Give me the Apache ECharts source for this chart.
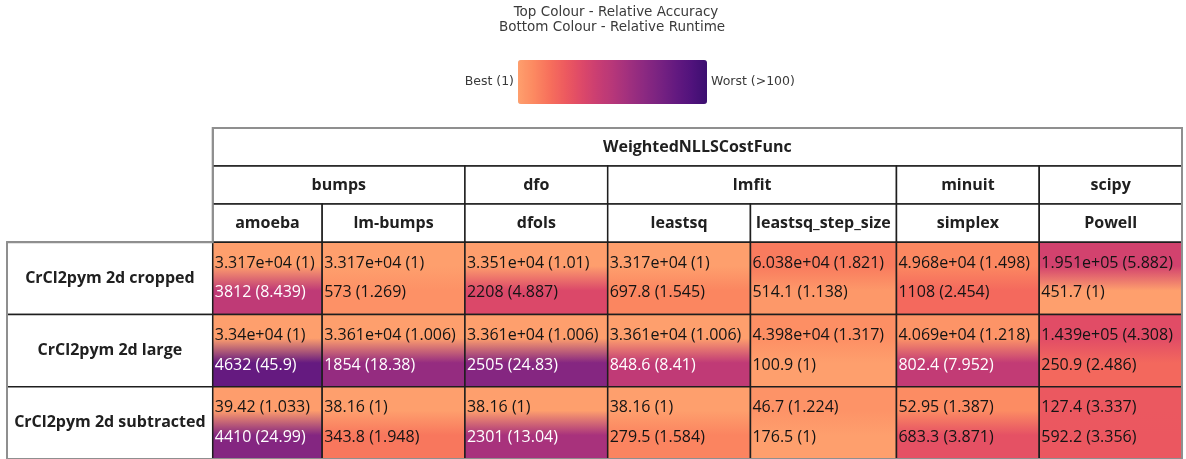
<!DOCTYPE html>
<html>
<head>
<meta charset="utf-8">
<script src="https://cdn.jsdelivr.net/npm/echarts@6/dist/echarts.min.js"></script>
<style>
  html, body { margin: 0; padding: 0; background: #ffffff; }
  #main { width: 1186px; height: 459px; }
</style>
</head>
<body>
<div id="main"></div>
<script>
// ---- table content ----
const costFunction = 'WeightedNLLSCostFunc';
const software = ['bumps', 'bumps', 'dfo', 'lmfit', 'lmfit', 'minuit', 'scipy'];
const minimizers = ['amoeba', 'lm-bumps', 'dfols', 'leastsq', 'leastsq_step_size', 'simplex', 'Powell'];
const problems = ['CrCl2pym 2d cropped', 'CrCl2pym 2d large', 'CrCl2pym 2d subtracted'];

// chi-squared value of each fit and its value relative to the best in the row
const accuracy = [
  [3.317e4, 3.317e4, 3.351e4, 3.317e4, 6.038e4, 4.968e4, 1.951e5],
  [3.34e4, 3.361e4, 3.361e4, 3.361e4, 4.398e4, 4.069e4, 1.439e5],
  [39.42, 38.16, 38.16, 38.16, 46.7, 52.95, 127.4]
];
const accuracyRel = [
  [1, 1, 1.01, 1, 1.821, 1.498, 5.882],
  [1, 1.006, 1.006, 1.006, 1.317, 1.218, 4.308],
  [1.033, 1, 1, 1, 1.224, 1.387, 3.337]
];

// runtime of each fit and its value relative to the fastest in the row
const runtime = [
  [3812, 573, 2208, 697.8, 514.1, 1108, 451.7],
  [4632, 1854, 2505, 848.6, 100.9, 802.4, 250.9],
  [4410, 343.8, 2301, 279.5, 176.5, 683.3, 592.2]
];
const runtimeRel = [
  [8.439, 1.269, 4.887, 1.545, 1.138, 2.454, 1],
  [45.9, 18.38, 24.83, 8.41, 1, 7.952, 2.486],
  [24.99, 1.948, 13.04, 1.584, 1, 3.871, 3.356]
];

const colourLimit = 100;
const legendLabels = ['Best (1)', 'Worst (>100)'];
const titleLines = ['Top Colour - Relative Accuracy', 'Bottom Colour - Relative Runtime'];

// ---- colour map (magma, used reversed between 0.2 and 0.8) ----
const MAGMA = [
  [0.20, '#3b0f70'], [0.25, '#51127c'], [0.30, '#641a80'], [0.35, '#782281'],
  [0.40, '#8c2981'], [0.45, '#a1307e'], [0.50, '#b73779'], [0.55, '#ca3e72'],
  [0.60, '#de4968'], [0.65, '#ed5a5f'], [0.70, '#f7705c'], [0.75, '#fc8961'],
  [0.80, '#fe9f6d']
];
const CMAP_LOW = 0.2, CMAP_HIGH = 0.8;

function hexToRgb(h) {
  return [parseInt(h.slice(1, 3), 16), parseInt(h.slice(3, 5), 16), parseInt(h.slice(5, 7), 16)];
}
function magma(p) {
  if (p <= MAGMA[0][0]) return hexToRgb(MAGMA[0][1]);
  for (let k = 1; k < MAGMA.length; k++) {
    if (p <= MAGMA[k][0]) {
      const a = MAGMA[k - 1], b = MAGMA[k];
      const f = (p - a[0]) / (b[0] - a[0]);
      const ca = hexToRgb(a[1]), cb = hexToRgb(b[1]);
      return ca.map((v, n) => Math.round(v + (cb[n] - v) * f));
    }
  }
  return hexToRgb(MAGMA[MAGMA.length - 1][1]);
}
function relativeRgb(rel) {
  const t = Math.min(1, Math.max(0, Math.log10(rel) / Math.log10(colourLimit)));
  return magma(CMAP_HIGH - (CMAP_HIGH - CMAP_LOW) * t);
}
const rgbStr = c => `rgb(${c[0]},${c[1]},${c[2]})`;
function textOn(c) {
  const lum = (0.299 * c[0] + 0.587 * c[1] + 0.114 * c[2]) / 255;
  return lum < 0.435 ? '#ffffff' : '#141414';
}

// python-style "{:.4g}" formatting
function fmt4g(v) {
  const e = Math.floor(Math.log10(Math.abs(v)));
  if (e < -4 || e >= 4) {
    const parts = v.toExponential(3).split('e');
    let m = parts[0];
    if (m.indexOf('.') >= 0) m = m.replace(/0+$/, '').replace(/\.$/, '');
    const n = parseInt(parts[1], 10);
    return m + 'e' + (n < 0 ? '-' : '+') + String(Math.abs(n)).padStart(2, '0');
  }
  return String(parseFloat(v.toPrecision(4)));
}
const cellText = (v, r) => `${fmt4g(v)} (${fmt4g(r)})`;

// ---- auto layout of the table from measured text ----
const TABLE_FONT = '"Open Sans", "Noto Sans", sans-serif';
const FONT_SIZE = 16;
const LEGEND_FONT = '"DejaVu Sans", sans-serif';
const measureCtx = document.createElement('canvas').getContext('2d');
function textWidth(s, weight, size, family) {
  measureCtx.font = `${weight} ${size}px ${family}`;
  return measureCtx.measureText(s).width;
}
const CELL_PAD = 4;

const colWidths = [];
colWidths.push(Math.max(...problems.map(p => textWidth(p, 'bold', FONT_SIZE, TABLE_FONT))) + CELL_PAD);
minimizers.forEach((m, j) => {
  let w = textWidth(m, 'bold', FONT_SIZE, TABLE_FONT);
  for (let i = 0; i < problems.length; i++) {
    w = Math.max(w,
      textWidth(cellText(accuracy[i][j], accuracyRel[i][j]), 'normal', FONT_SIZE, TABLE_FONT),
      textWidth(cellText(runtime[i][j], runtimeRel[i][j]), 'normal', FONT_SIZE, TABLE_FONT));
  }
  colWidths.push(w + CELL_PAD);
});
const xEdges = [0];
colWidths.forEach(w => xEdges.push(xEdges[xEdges.length - 1] + w));

// header rows hold one line, body rows hold two
const HEADER_ROWS = 3, BODY_ROW_WEIGHT = 1.9;
const yEdges = [0];
for (let r = 0; r < HEADER_ROWS; r++) yEdges.push(yEdges[yEdges.length - 1] + 1);
problems.forEach(() => yEdges.push(yEdges[yEdges.length - 1] + BODY_ROW_WEIGHT));
const xMax = xEdges[xEdges.length - 1], yMax = yEdges[yEdges.length - 1];

// header and row-label cells: [x0, x1, y0, y1]
const headerCells = [];
headerCells.push({ box: [xEdges[1], xMax, yEdges[0], yEdges[1]], text: costFunction });
let runStart = 0;
for (let j = 1; j <= software.length; j++) {
  if (j === software.length || software[j] !== software[runStart]) {
    headerCells.push({ box: [xEdges[runStart + 1], xEdges[j + 1], yEdges[1], yEdges[2]], text: software[runStart] });
    runStart = j;
  }
}
minimizers.forEach((m, j) => headerCells.push({ box: [xEdges[j + 1], xEdges[j + 2], yEdges[2], yEdges[3]], text: m }));
problems.forEach((p, i) => headerCells.push({ box: [xEdges[0], xEdges[1], yEdges[3 + i], yEdges[4 + i]], text: p }));

const bodyCells = [];
problems.forEach((p, i) => minimizers.forEach((m, j) => bodyCells.push([j, i])));

const LINE_COLOUR = '#1e1e1e';
const OUTER_COLOUR = '#8f8f8f';
const TITLE_SIZE = 13.5, LEGEND_SIZE = 12.5;

function rectFrom(api, x0, x1, y0, y1) {
  const a = api.coord([x0, y0]);
  const b = api.coord([x1, y1]);
  return { x: a[0], y: a[1], width: b[0] - a[0], height: b[1] - a[1] };
}

const chart = echarts.init(document.getElementById('main'), null, { renderer: 'canvas' });

chart.setOption({
  animation: false,
  backgroundColor: '#ffffff',
  graphic: [
    { type: 'text', x: 616, y: 12, silent: true,
      style: { text: titleLines[0], font: `${TITLE_SIZE}px ${LEGEND_FONT}`, fill: '#3a3a3a', align: 'center', verticalAlign: 'middle' } },
    { type: 'text', x: 612, y: 27.5, silent: true,
      style: { text: titleLines[1], font: `${TITLE_SIZE}px ${LEGEND_FONT}`, fill: '#3a3a3a', align: 'center', verticalAlign: 'middle' } }
  ],
  visualMap: {
    type: 'continuous',
    min: 0,
    max: Math.log10(colourLimit),
    orient: 'horizontal',
    calculable: false,
    realtime: false,
    seriesIndex: 3,
    left: 518 - 4 - textWidth(legendLabels[0], 'normal', LEGEND_SIZE, LEGEND_FONT) - 15,
    top: 45,
    itemWidth: 44,
    itemHeight: 189,
    textGap: 4,
    text: [legendLabels[1], legendLabels[0]],
    textStyle: { color: '#3a3a3a', fontFamily: LEGEND_FONT, fontSize: LEGEND_SIZE },
    inRange: { color: MAGMA.slice().reverse().map(s => s[1]) }
  },
  grid: { left: 7, right: 4, top: 128, bottom: -1 },
  xAxis: { type: 'value', min: 0, max: xMax, show: false },
  yAxis: { type: 'value', min: 0, max: yMax, inverse: true, show: false },
  series: [
    {
      // column headers and problem names
      type: 'custom',
      data: headerCells.map(c => c.box),
      encode: { x: [0, 1], y: [2, 3] },
      renderItem(params, api) {
        const r = rectFrom(api, api.value(0), api.value(1), api.value(2), api.value(3));
        return {
          type: 'group',
          children: [
            { type: 'rect', shape: r, style: { fill: '#ffffff', stroke: LINE_COLOUR, lineWidth: 1.5 } },
            { type: 'text', style: {
                text: headerCells[params.dataIndex].text,
                x: r.x + r.width / 2, y: r.y + r.height / 2,
                align: 'center', verticalAlign: 'middle',
                font: `bold ${FONT_SIZE}px ${TABLE_FONT}`, fill: '#202020' } }
          ]
        };
      }
    },
    {
      // result cells: top half coloured by accuracy, bottom half by runtime
      type: 'custom',
      data: bodyCells,
      encode: { x: 0, y: 1 },
      renderItem(params, api) {
        const j = api.value(0), i = api.value(1);
        const r = rectFrom(api, xEdges[j + 1], xEdges[j + 2], yEdges[3 + i], yEdges[4 + i]);
        const top = relativeRgb(accuracyRel[i][j]);
        const bottom = relativeRgb(runtimeRel[i][j]);
        return {
          type: 'group',
          children: [
            { type: 'rect', shape: r, style: {
                fill: { type: 'linear', x: 0, y: 0, x2: 0, y2: 1, colorStops: [
                  { offset: 0, color: rgbStr(top) }, { offset: 1 / 3, color: rgbStr(top) },
                  { offset: 2 / 3, color: rgbStr(bottom) }, { offset: 1, color: rgbStr(bottom) } ] },
                stroke: LINE_COLOUR, lineWidth: 1.5 } },
            { type: 'text', style: {
                text: cellText(accuracy[i][j], accuracyRel[i][j]),
                x: r.x + 2, y: r.y + r.height * 0.29, align: 'left', verticalAlign: 'middle',
                font: `${FONT_SIZE}px ${TABLE_FONT}`, fill: textOn(top) } },
            { type: 'text', style: {
                text: cellText(runtime[i][j], runtimeRel[i][j]),
                x: r.x + 2, y: r.y + r.height * 0.70, align: 'left', verticalAlign: 'middle',
                font: `${FONT_SIZE}px ${TABLE_FONT}`, fill: textOn(bottom) } }
          ]
        };
      }
    },
    {
      // outer frame of the table
      type: 'custom',
      data: [[0]],
      renderItem(params, api) {
        const pts = [
          [xEdges[1], yEdges[0]], [xMax, yEdges[0]], [xMax, yMax],
          [xEdges[0], yMax], [xEdges[0], yEdges[3]], [xEdges[1], yEdges[3]]
        ].map(p => api.coord(p));
        return { type: 'polygon', shape: { points: pts }, style: { fill: 'none', stroke: OUTER_COLOUR, lineWidth: 2 } };
      }
    },
    { type: 'custom', data: [], renderItem() { return null; } }
  ]
});
</script>
</body>
</html>
